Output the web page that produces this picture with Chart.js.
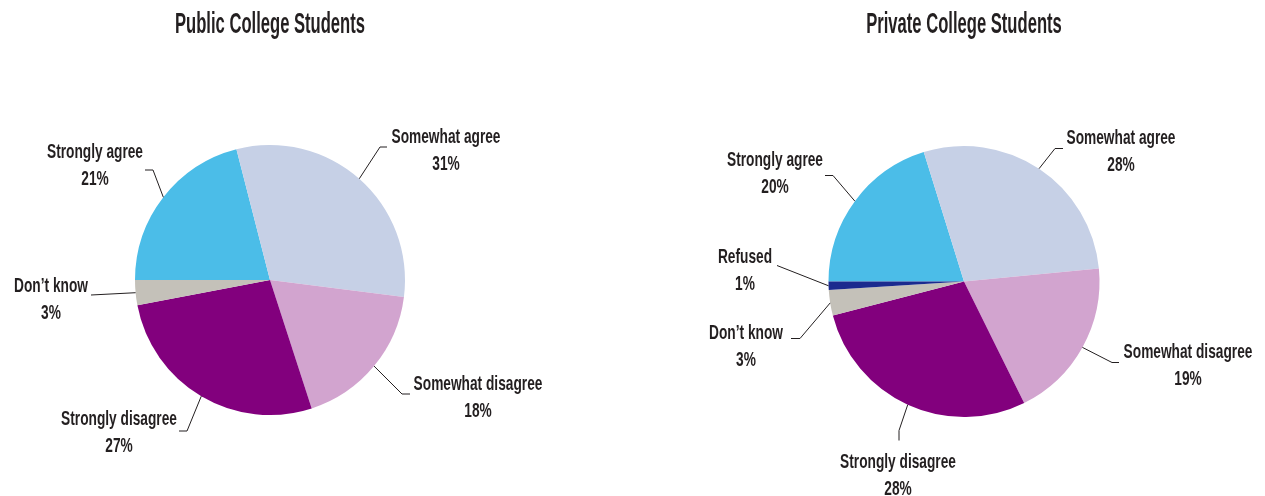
<!DOCTYPE html>
<html>
<head>
<meta charset="utf-8">
<script src="https://cdn.jsdelivr.net/npm/chart.js@4/dist/chart.umd.min.js"></script>
<style>
  html, body { margin: 0; padding: 0; background: #ffffff; }
  #wrap { position: relative; width: 1265px; height: 496px; overflow: hidden; }
  .panel { position: absolute; top: 0; height: 496px; }
</style>
</head>
<body>
<div id="wrap">
  <div class="panel" style="left:0;width:632px"><canvas id="publicChart" width="632" height="496"></canvas></div>
  <div class="panel" style="left:632px;width:633px"><canvas id="privateChart" width="633" height="496"></canvas></div>
</div>
<script>
// Survey responses, percent of students
const publicCategories = ['Strongly agree', 'Somewhat agree', 'Somewhat disagree', 'Strongly disagree', 'Don\u2019t know'];
const publicValues = [21, 31, 18, 27, 3];

const privateCategories = ['Strongly agree', 'Somewhat agree', 'Somewhat disagree', 'Strongly disagree', 'Don\u2019t know', 'Refused'];
const privateValues = [20, 28, 19, 28, 3, 1];

const titles = ['Public College Students', 'Private College Students'];

// Slice colours by response
const responseColors = {
  'Strongly agree': '#4bbde8',
  'Somewhat agree': '#c6d0e6',
  'Somewhat disagree': '#d2a4cf',
  'Strongly disagree': '#82007d',
  'Don\u2019t know': '#c4c1b9',
  'Refused': '#1b2a8e'
};

// Callout placement, in pixels from the pie centre:
// text = centre x / first-line baseline, elbow = bend of leader, end = leader tip near text
const publicCallouts = {
  'Strongly agree':    { text: [-175, -122], elbow: [-117, -110], end: [-125, -110] },
  'Somewhat agree':    { text: [176, -137],  elbow: [110, -133],  end: [117, -133] },
  'Somewhat disagree': { text: [208, 110],   elbow: [132, 114],   end: [140, 114] },
  'Strongly disagree': { text: [-151, 145],  elbow: [-83, 151],   end: [-91, 151] },
  'Don\u2019t know':   { text: [-219, 12],   elbow: null,         end: [-179, 15] }
};
const privateCallouts = {
  'Strongly agree':    { text: [-189, -116], elbow: [-131, -106], end: [-139, -106] },
  'Somewhat agree':    { text: [157, -138],  elbow: [91, -133],   end: [99, -133] },
  'Somewhat disagree': { text: [224, 76],    elbow: [148, 81],    end: [155, 81] },
  'Strongly disagree': { text: [-66, 186],   elbow: [-65, 149],   end: [-65, 159] },
  'Don\u2019t know':   { text: [-218, 57],   elbow: [-164, 57],   end: [-173, 57] },
  'Refused':           { text: [-219, -19],  elbow: null,         end: [-187, -16] }
};

const FONT_FAMILY = '"Liberation Sans", Arial, sans-serif';
const INK = '#231f20';

// Text style: size in px, and the width a reference string should take,
// so that the face is narrowed to a condensed look
const titleStyle = { size: 29, weight: 'bold', ref: 'Public College Students', refWidth: 190 };
const labelStyle = { size: 21, weight: 'bold', ref: 'Strongly agree', refWidth: 96 };

function squeezeFor(ctx, style) {
  ctx.save();
  ctx.font = style.weight + ' ' + style.size + 'px ' + FONT_FAMILY;
  const w = ctx.measureText(style.ref).width;
  ctx.restore();
  return style.refWidth / w;
}

function condensedText(ctx, str, x, y, style, squeeze) {
  ctx.save();
  ctx.translate(x, y);
  ctx.scale(squeeze, 1);
  ctx.font = style.weight + ' ' + style.size + 'px ' + FONT_FAMILY;
  ctx.textAlign = 'center';
  ctx.textBaseline = 'alphabetic';
  ctx.fillStyle = INK;
  ctx.fillText(str, 0, 0);
  ctx.restore();
}

// Draws the chart title and the callout labels with their leader lines
const calloutPlugin = {
  id: 'callouts',
  afterDatasetsDraw(chart, args, opts) {
    const ctx = chart.ctx;
    const meta = chart.getDatasetMeta(0);
    const labels = chart.data.labels;
    const values = chart.data.datasets[0].data;
    const arc0 = meta.data[0];
    const cx = arc0.x, cy = arc0.y;

    const tSq = squeezeFor(ctx, titleStyle);
    const lSq = squeezeFor(ctx, labelStyle);

    condensedText(ctx, opts.title, cx, 33, titleStyle, tSq);

    meta.data.forEach((arc, i) => {
      const name = labels[i];
      const place = opts.callouts[name];
      if (!place) return;
      const mid = (arc.startAngle + arc.endAngle) / 2;
      const r = arc.outerRadius;
      const sx = cx + Math.cos(mid) * r;
      const sy = cy + Math.sin(mid) * r;

      ctx.save();
      ctx.strokeStyle = INK;
      ctx.lineWidth = 1;
      ctx.beginPath();
      ctx.moveTo(sx, sy);
      if (place.elbow) ctx.lineTo(cx + place.elbow[0], cy + place.elbow[1]);
      ctx.lineTo(cx + place.end[0], cy + place.end[1]);
      ctx.stroke();
      ctx.restore();

      const tx = cx + place.text[0];
      const ty = cy + place.text[1];
      condensedText(ctx, name, tx, ty, labelStyle, lSq);
      condensedText(ctx, values[i] + '%', tx, ty + 27, labelStyle, lSq);
    });
  }
};

function makePie(canvasId, categories, values, title, callouts, padding) {
  return new Chart(document.getElementById(canvasId), {
    type: 'pie',
    data: {
      labels: categories,
      datasets: [{
        data: values,
        backgroundColor: categories.map(c => responseColors[c]),
        borderWidth: 0,
        hoverOffset: 0
      }]
    },
    options: {
      responsive: false,
      animation: false,
      rotation: -90,
      layout: { padding: padding },
      plugins: {
        legend: { display: false },
        title: { display: false },
        tooltip: { enabled: false },
        callouts: { title: title, callouts: callouts }
      },
      events: []
    },
    plugins: [calloutPlugin]
  });
}

makePie('publicChart', publicCategories, publicValues, titles[0], publicCallouts,
  { left: 20, right: 112, top: 145, bottom: 81 });
makePie('privateChart', privateCategories, privateValues, titles[1], privateCallouts,
  { left: 60, right: 29, top: 146, bottom: 79 });
</script>
</body>
</html>
